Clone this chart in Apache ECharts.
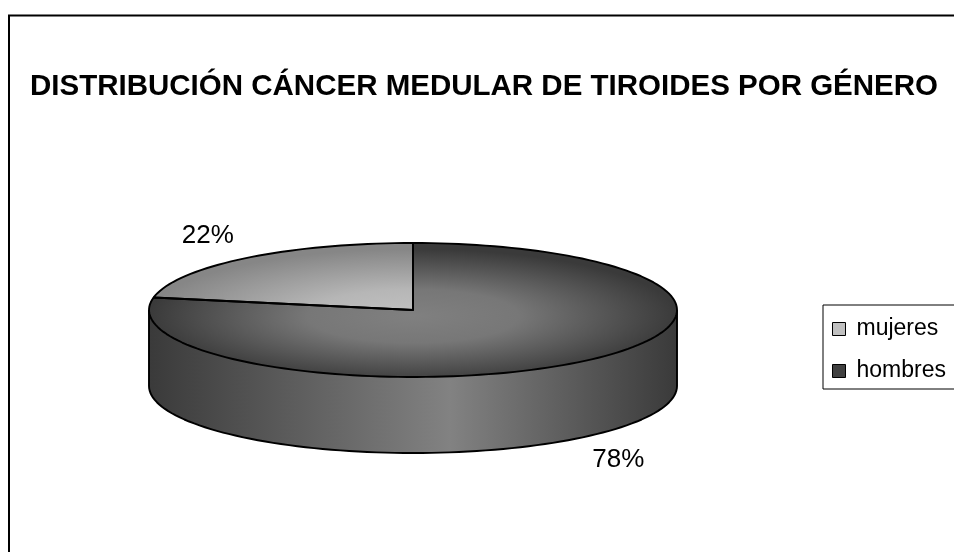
<!DOCTYPE html>
<html>
<head>
<meta charset="utf-8">
<script src="https://cdn.jsdelivr.net/npm/echarts@6/dist/echarts.min.js"></script>
<style>
html,body{margin:0;padding:0;background:#fff}
#main{width:954px;height:552px}
</style>
</head>
<body>
<div id="main"></div>
<script>
/* datos del gráfico */
var titulo = 'DISTRIBUCIÓN CÁNCER MEDULAR DE TIROIDES POR GÉNERO';
var categorias = ['mujeres', 'hombres'];
var valores = [22, 78];

/* estilos */
var coloresLeyenda = ['#c0c0c0', '#404040'];
var degradadoTapa = [['#c2c2c2', '#b6b6b6', '#868686'], ['#808080', '#777777', '#3a3a3a']];
var degradadoPared = [['#8a8a8a', '#c6c6c6', '#8a8a8a'], ['#3a3a3a', '#828282', '#3a3a3a']];

/* geometria de la torta 3D */
var CX = 413, CY = 310, RX = 264, RY = 67, PROF = 76, INICIO = 90;
var total = valores.reduce(function(a, b){ return a + b; }, 0);

function punto(ang, dy){
    var r = ang * Math.PI / 180;
    return [CX + RX * Math.cos(r), CY - RY * Math.sin(r) + (dy || 0)];
}
function arco(a0, a1, dy){
    var pts = [];
    var n = Math.max(2, Math.ceil(Math.abs(a1 - a0) / 2));
    for (var i = 0; i <= n; i++) pts.push(punto(a0 + (a1 - a0) * i / n, dy));
    return pts;
}

/* dibuja una porcion: pared frontal, tapa, contornos y etiqueta */
function dibujarPorcion(params, api){
    var i = params.seriesIndex;
    var antes = 0;
    for (var k = 0; k < i; k++) antes += valores[k];
    var v = api.value(0);
    var a0 = INICIO + antes / total * 360;
    var a1 = a0 + v / total * 360;
    var hijos = [];

    // pared visible (mitad delantera)
    [[180, 360], [540, 720]].forEach(function(rango){
        var w0 = Math.max(a0, rango[0]), w1 = Math.min(a1, rango[1]);
        if (w1 <= w0) return;
        var arriba = arco(w0, w1, 0), abajo = arco(w1, w0, PROF);
        var c = degradadoPared[i];
        hijos.push({
            type: 'polygon', z2: 1,
            shape: {points: arriba.concat(abajo)},
            style: {
                fill: new echarts.graphic.LinearGradient(CX - RX, 0, CX + RX, 0, [
                    {offset: 0, color: c[0]}, {offset: 0.57, color: c[1]}, {offset: 1, color: c[2]}
                ], true),
                stroke: 'none'
            }
        });
        hijos.push({
            type: 'polyline', z2: 3,
            shape: {points: [punto(w0, 0)].concat(arco(w0, w1, PROF)).concat([punto(w1, 0)])},
            style: {fill: 'none', stroke: '#000', lineWidth: 1.9, lineJoin: 'round'}
        });
    });

    // tapa superior (circulo aplastado)
    var t = degradadoTapa[i];
    hijos.push({
        type: 'group', originX: CX, originY: CY, scaleY: RY / RX,
        children: [{
            type: 'sector', z2: 2,
            shape: {cx: CX, cy: CY, r: RX, r0: 0, startAngle: -a1 * Math.PI / 180, endAngle: -a0 * Math.PI / 180, clockwise: true},
            style: {
                fill: new echarts.graphic.RadialGradient(CX, CY + 24, RX, [
                    {offset: 0, color: t[0]}, {offset: 0.4, color: t[1]}, {offset: 1, color: t[2]}
                ], true),
                stroke: 'none'
            }
        }]
    });
    hijos.push({
        type: 'polygon', z2: 3,
        shape: {points: [[CX, CY]].concat(arco(a0, a1, 0))},
        style: {fill: 'none', stroke: '#000', lineWidth: 1.9, lineJoin: 'round'}
    });

    // etiqueta de porcentaje
    var mid = (a0 + a1) / 2 * Math.PI / 180;
    var lx = CX + (RX + 58) * Math.cos(mid);
    var ly = CY - (RY + 29) * Math.sin(mid) + (Math.sin(mid) < 0 ? PROF : 0);
    hijos.push({
        type: 'text', z2: 4,
        style: {
            text: Math.round(v / total * 100) + '%',
            x: lx, y: ly, align: 'center', verticalAlign: 'middle',
            font: '26px "Liberation Sans", Arial, sans-serif', fill: '#000'
        }
    });

    return {type: 'group', children: hijos};
}

var myChart = echarts.init(document.getElementById('main'));
myChart.setOption({
    animation: false,
    backgroundColor: '#fff',
    title: {
        text: titulo, left: 30, top: 72, padding: 0,
        textStyle: {fontFamily: 'Liberation Sans', fontWeight: 'bold', fontSize: 29.5, lineHeight: 29, color: '#000'}
    },
    legend: {
        orient: 'vertical', left: 823, top: 305,
        data: categorias.map(function(n, i){ return {name: n, itemStyle: {color: coloresLeyenda[i]}}; }),
        backgroundColor: '#fff', borderColor: '#000', borderWidth: 1,
        padding: [10, 40, 4, 9],
        itemWidth: 13, itemHeight: 13, itemGap: 14, icon: 'rect',
        itemStyle: {borderColor: '#000', borderWidth: 1},
        textStyle: {fontFamily: 'Liberation Sans', fontSize: 23, color: '#000', lineHeight: 28, padding: [0, 0, 0, 6]},
        selectedMode: false
    },
    graphic: [{
        type: 'rect', silent: true,
        shape: {x: 9, y: 15.5, width: 1000, height: 600},
        style: {fill: 'none', stroke: '#000', lineWidth: 2}
    }],
    series: categorias.map(function(nombre, i){
        return {
            type: 'custom', name: nombre, coordinateSystem: 'none', silent: true,
            itemStyle: {color: coloresLeyenda[i]},
            renderItem: dibujarPorcion,
            data: [[valores[i]]]
        };
    })
});
</script>
</body>
</html>
